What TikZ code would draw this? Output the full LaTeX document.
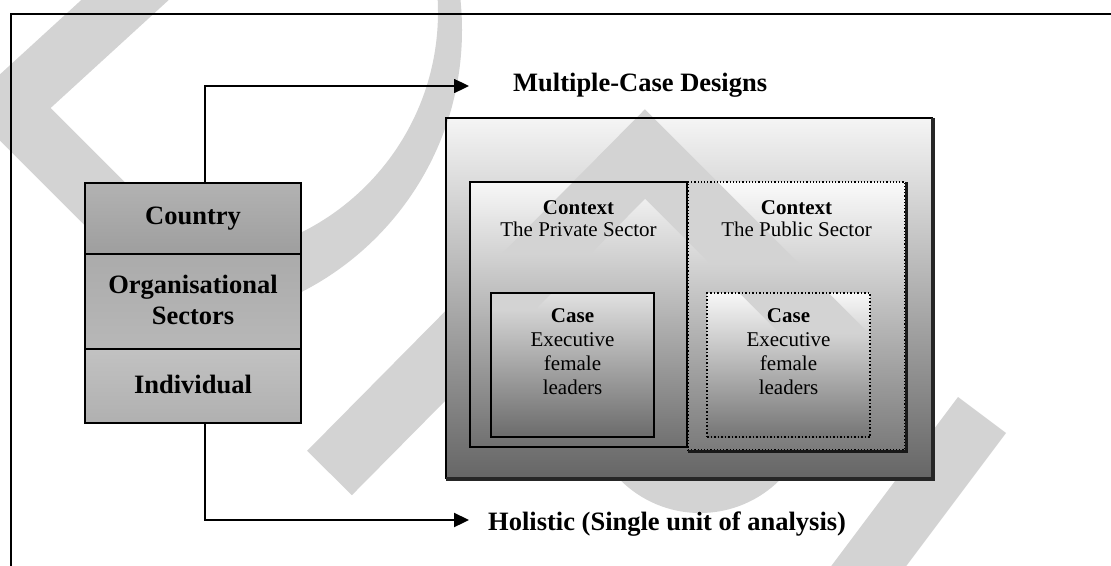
\documentclass[tikz,border=0pt]{standalone}
\usepackage{fontspec}
\setmainfont{Liberation Serif}
\usetikzlibrary{arrows.meta}
\definecolor{wmark}{HTML}{D3D3D3}
\begin{document}
\begin{tikzpicture}[x=1pt,y=-1pt,
  panel/.style={inner sep=0pt, outer sep=0pt},
  lvl/.style={panel, draw=black, line width=2.6pt, minimum width=216pt, align=center,
              font=\fontsize{26.5}{31.5}\selectfont\bfseries},
  heading/.style={inner sep=0pt, anchor=base west, font=\fontsize{26.5}{30}\selectfont\bfseries},
  ctxlab/.style={inner sep=0pt, anchor=north, align=center, font=\fontsize{21}{22.5}\selectfont},
  caselab/.style={inner sep=0pt, anchor=north, align=center, font=\fontsize{21}{24}\selectfont},
  conn/.style={line width=2.3pt, -{Triangle[length=15pt,width=14pt]}},
  frameline/.style={line width=2.5pt}
]
\useasboundingbox (0,0) rectangle (1111,565);
\fill[white] (0,0) rectangle (1111,565);

% outer frame (top and left rules)
\draw[frameline] (11,566) -- (11,14) -- (1112,14);

% multiple-case design panel
\node[panel, draw=black, line width=2.4pt, top color=black!4, middle color=black!33, bottom color=black!60,
      minimum width=486pt, minimum height=360pt] (outer) at (689,298) {};
\draw[line width=3.5pt, black!85] ([xshift=1pt]outer.north east) -- ([xshift=1pt,yshift=-1pt]outer.south east) -- ([yshift=-1pt]outer.south west);

\node[panel, draw=black, line width=2.2pt, top color=black!3, middle color=black!30, bottom color=black!56,
      minimum width=217pt, minimum height=265pt] (ctxL) at (578.5,314.5) {};
\node[panel, draw=black, line width=1.2pt, dotted, top color=black!2, middle color=black!26, bottom color=black!52,
      minimum width=217pt, minimum height=268pt] (ctxR) at (796.5,316) {};
\draw[line width=3pt, black!90] ([xshift=1pt]ctxR.north east) -- ([xshift=1pt,yshift=-1pt]ctxR.south east) -- ([yshift=-1pt]ctxR.south west);

\node[panel, draw=black, line width=2.5pt, top color=black!12, middle color=black!38, bottom color=black!58,
      minimum width=163pt, minimum height=144pt] (caseL) at (572.5,365) {};
\node[panel, draw=black, line width=1.5pt, dotted, top color=black!3, middle color=black!30, bottom color=black!54,
      minimum width=163pt, minimum height=144pt] (caseR) at (788.5,365) {};

\node[ctxlab] (ctxLlab) at ([yshift=-18pt]ctxL.north) {\textbf{Context}\\The Private Sector};
\node[ctxlab] (ctxRlab) at ([yshift=-18pt]ctxR.north) {\textbf{Context}\\The Public Sector};
\node[caselab] (caseLlab) at ([yshift=-15.5pt]caseL.north) {\textbf{Case}\\Executive\\female\\leaders};
\node[caselab] (caseRlab) at ([yshift=-15.5pt]caseR.north) {\textbf{Case}\\Executive\\female\\leaders};

% levels of analysis
\node[lvl, top color=black!30, bottom color=black!38, minimum height=71pt] (country) at (193,218.5) {\raisebox{3pt}{Country}};
\node[lvl, top color=black!33, middle color=black!19, bottom color=black!28, minimum height=95pt] (orgsec) at (193,301.5) {\raisebox{3pt}{Organisational}\\\raisebox{3pt}{Sectors}};
\node[lvl, top color=black!24, bottom color=black!31, minimum height=74pt] (indiv) at (193,386) {\raisebox{3pt}{Individual}};

% design labels and connectors
\node[heading] (mcd) at (513,91) {Multiple-Case Designs};
\node[heading] (hol) at (488,530) {Holistic (Single unit of analysis)};
\coordinate (upturn) at (205,86);
\coordinate (downturn) at (205,520);
\draw[conn, shorten >=44pt] (upturn |- country.north) -- (upturn) -- (upturn -| mcd.west);
\draw[conn, shorten >=19pt] (downturn |- indiv.south) -- (downturn) -- (downturn -| hol.west);

% watermark, darkening only the lighter parts of the page
\begin{scope}[blend mode=darken]
  \draw[wmark, line width=59pt, line join=miter] (160,-32) -- (8,107) -- (112,211);
  \begin{scope}
    \clip (120,-50) rectangle (1111,600);
    \fill[wmark, even odd rule] (168,30) circle[radius=294pt] (192,12) circle[radius=246pt];
  \end{scope}
  \draw[wmark, line width=63pt, line join=miter] (329.5,473) -- (645,154) -- (870,379);
  \fill[wmark] (958,397) -- (1006,433) -- (856,633) -- (808,597) -- cycle;
  \begin{scope}
    \clip (0,480) rectangle (1111,600);
    \fill[wmark] (700,400) circle[radius=113pt];
  \end{scope}
\end{scope}
\end{tikzpicture}
\end{document}
